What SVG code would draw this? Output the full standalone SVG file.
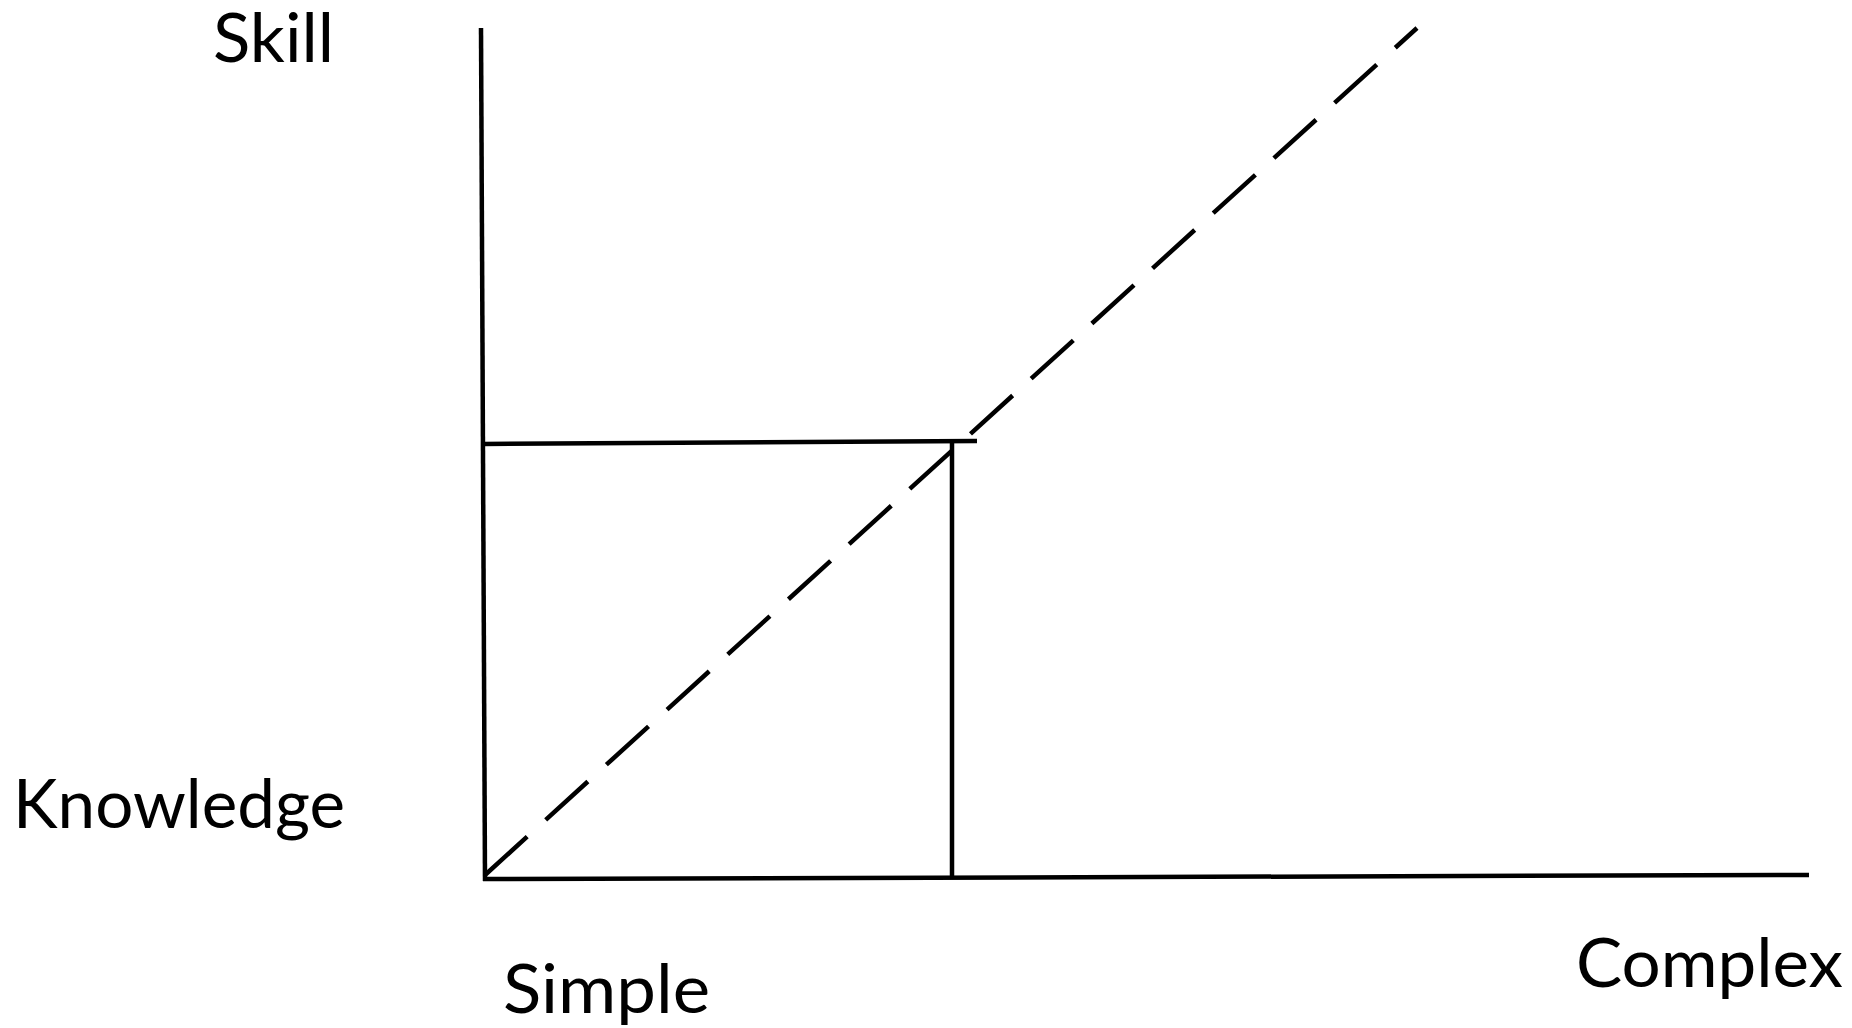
<svg xmlns="http://www.w3.org/2000/svg" width="1852" height="1028" viewBox="0 0 1852 1028">
<style>
.lbl{font-family:Lato,"Open Sans","Liberation Sans",sans-serif;font-size:68px;fill:#000}
.ln{stroke:#000;stroke-width:4.5;fill:none;stroke-linecap:butt}
.dash{stroke:#000;stroke-width:4.5;fill:none;stroke-dasharray:57 25}
</style>
<rect width="1852" height="1028" fill="#fff"/>
<g id="connectors">
<line class="ln" x1="481" y1="28" x2="485" y2="881"/>
<line class="ln" x1="483" y1="879" x2="1809" y2="875"/>
<line class="ln" x1="483" y1="444" x2="977" y2="441"/>
<line class="ln" x1="952" y1="441" x2="952" y2="878"/>
<line class="dash" x1="485" y1="875" x2="1417" y2="28"/>
</g>
<g id="skill"><text class="lbl" x="213" y="62" textLength="121" lengthAdjust="spacingAndGlyphs">Skill</text></g>
<g id="knowledge"><text class="lbl" x="13" y="828" textLength="332" lengthAdjust="spacingAndGlyphs">Knowledge</text></g>
<g id="simple"><text class="lbl" x="503" y="1013" textLength="207" lengthAdjust="spacingAndGlyphs">Simple</text></g>
<g id="complex"><text class="lbl" x="1576" y="987" textLength="267" lengthAdjust="spacingAndGlyphs">Complex</text></g>
</svg>
